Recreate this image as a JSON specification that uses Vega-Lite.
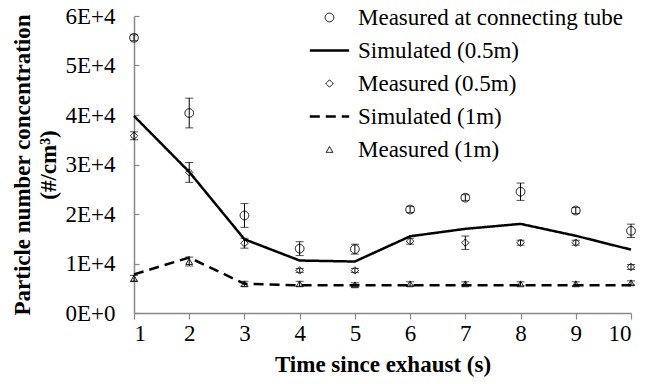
{
  "$schema": "https://vega.github.io/schema/vega-lite/v6.json",
  "width": 497,
  "height": 297,
  "autosize": "none",
  "padding": {"left": 134, "top": 16, "right": 20, "bottom": 71},
  "background": "white",
  "config": {
    "view": {"stroke": null},
    "font": "Liberation Serif",
    "axis": {"grid": false, "domainColor": "#898989", "tickColor": "#898989", "domainWidth": 1.5, "tickWidth": 1.2, "labelColor": "black", "titleColor": "black", "labelFont": "Liberation Serif", "titleFont": "Liberation Serif", "labelFontSize": 23, "titleFontSize": 23, "titleFontWeight": "bold"}
  },
  "datasets": {
    "meas": [
      {"t": 1, "series": "Measured at connecting tube", "v": 55600, "lo": 55000, "hi": 56200},
      {"t": 2, "series": "Measured at connecting tube", "v": 40400, "lo": 37400, "hi": 43400},
      {"t": 3, "series": "Measured at connecting tube", "v": 19700, "lo": 17300, "hi": 22100},
      {"t": 4, "series": "Measured at connecting tube", "v": 13000, "lo": 11600, "hi": 14400},
      {"t": 5, "series": "Measured at connecting tube", "v": 12900, "lo": 11900, "hi": 13900},
      {"t": 6, "series": "Measured at connecting tube", "v": 20900, "lo": 20300, "hi": 21500},
      {"t": 7, "series": "Measured at connecting tube", "v": 23300, "lo": 22700, "hi": 23900},
      {"t": 8, "series": "Measured at connecting tube", "v": 24500, "lo": 22750, "hi": 26250},
      {"t": 9, "series": "Measured at connecting tube", "v": 20700, "lo": 20100, "hi": 21300},
      {"t": 10, "series": "Measured at connecting tube", "v": 16600, "lo": 15250, "hi": 17950},
      {"t": 1, "series": "Measured (0.5m)", "v": 35800, "lo": 35000, "hi": 36600},
      {"t": 2, "series": "Measured (0.5m)", "v": 28400, "lo": 26400, "hi": 30400},
      {"t": 3, "series": "Measured (0.5m)", "v": 14100, "lo": 13100, "hi": 15100},
      {"t": 4, "series": "Measured (0.5m)", "v": 8600, "lo": 8200, "hi": 9000},
      {"t": 5, "series": "Measured (0.5m)", "v": 8600, "lo": 8200, "hi": 9000},
      {"t": 6, "series": "Measured (0.5m)", "v": 14500, "lo": 13900, "hi": 15100},
      {"t": 7, "series": "Measured (0.5m)", "v": 14200, "lo": 12850, "hi": 15550},
      {"t": 8, "series": "Measured (0.5m)", "v": 14200, "lo": 13700, "hi": 14700},
      {"t": 9, "series": "Measured (0.5m)", "v": 14200, "lo": 13700, "hi": 14700},
      {"t": 10, "series": "Measured (0.5m)", "v": 9300, "lo": 8800, "hi": 9800},
      {"t": 1, "series": "Measured (1m)", "v": 7000, "lo": 6400, "hi": 7600},
      {"t": 2, "series": "Measured (1m)", "v": 10400, "lo": 9500, "hi": 11300},
      {"t": 3, "series": "Measured (1m)", "v": 5900, "lo": 5400, "hi": 6400},
      {"t": 4, "series": "Measured (1m)", "v": 5900, "lo": 5400, "hi": 6400},
      {"t": 5, "series": "Measured (1m)", "v": 5700, "lo": 5300, "hi": 6100},
      {"t": 6, "series": "Measured (1m)", "v": 5900, "lo": 5500, "hi": 6300},
      {"t": 7, "series": "Measured (1m)", "v": 5900, "lo": 5500, "hi": 6300},
      {"t": 8, "series": "Measured (1m)", "v": 5900, "lo": 5500, "hi": 6300},
      {"t": 9, "series": "Measured (1m)", "v": 5900, "lo": 5500, "hi": 6300},
      {"t": 10, "series": "Measured (1m)", "v": 6100, "lo": 5700, "hi": 6500}
    ],
    "sim": [
      {"t": 1, "series": "Simulated (0.5m)", "v": 39800},
      {"t": 2, "series": "Simulated (0.5m)", "v": 28500},
      {"t": 3, "series": "Simulated (0.5m)", "v": 14900},
      {"t": 4, "series": "Simulated (0.5m)", "v": 10600},
      {"t": 5, "series": "Simulated (0.5m)", "v": 10400},
      {"t": 6, "series": "Simulated (0.5m)", "v": 15500},
      {"t": 7, "series": "Simulated (0.5m)", "v": 17000},
      {"t": 8, "series": "Simulated (0.5m)", "v": 18000},
      {"t": 9, "series": "Simulated (0.5m)", "v": 15600},
      {"t": 10, "series": "Simulated (0.5m)", "v": 12800},
      {"t": 1, "series": "Simulated (1m)", "v": 7800},
      {"t": 2, "series": "Simulated (1m)", "v": 11200},
      {"t": 3, "series": "Simulated (1m)", "v": 5900},
      {"t": 4, "series": "Simulated (1m)", "v": 5600},
      {"t": 5, "series": "Simulated (1m)", "v": 5600},
      {"t": 6, "series": "Simulated (1m)", "v": 5600},
      {"t": 7, "series": "Simulated (1m)", "v": 5600},
      {"t": 8, "series": "Simulated (1m)", "v": 5600},
      {"t": 9, "series": "Simulated (1m)", "v": 5600},
      {"t": 10, "series": "Simulated (1m)", "v": 5600}
    ]
  },
  "layer": [
    {
      "data": {"name": "sim"},
      "mark": {"type": "line", "color": "black", "strokeWidth": 2.5},
      "encoding": {
        "x": {"field": "t", "type": "quantitative", "scale": {"domain": [1, 10], "nice": false},
              "axis": {"title": "Time since exhaust (s)", "values": [1,2,3,4,5,6,7,8,9,10], "format": "d", "tickSize": 6, "labelPadding": 3, "titlePadding": 8}},
        "y": {"field": "v", "type": "quantitative", "scale": {"domain": [0, 60000], "nice": false},
              "axis": {"title": ["Particle number  concentration", "(#/cm³)"], "values": [0,10000,20000,30000,40000,50000,60000], "tickSize": -5, "labelPadding": 24, "titlePadding": 4, "titleLineHeight": 26,
                       "labelExpr": "datum.value === 0 ? '0E+0' : (datum.value/10000) + 'E+4'"}},
        "detail": {"field": "series"},
        "strokeDash": {"field": "series", "type": "nominal"}
      }
    },
    {
      "data": {"name": "meas"},
      "mark": {"type": "rule", "color": "black", "strokeWidth": 1},
      "encoding": {
        "x": {"field": "t", "type": "quantitative"},
        "y": {"field": "lo", "type": "quantitative"},
        "y2": {"field": "hi"}
      }
    },
    {
      "data": {"name": "meas"},
      "mark": {"type": "tick", "color": "black", "orient": "horizontal", "size": 8, "thickness": 1},
      "encoding": {
        "x": {"field": "t", "type": "quantitative"},
        "y": {"field": "lo", "type": "quantitative"}
      }
    },
    {
      "data": {"name": "meas"},
      "mark": {"type": "tick", "color": "black", "orient": "horizontal", "size": 8, "thickness": 1},
      "encoding": {
        "x": {"field": "t", "type": "quantitative"},
        "y": {"field": "hi", "type": "quantitative"}
      }
    },
    {
      "data": {"name": "meas"},
      "mark": {"type": "point", "filled": false, "color": "black", "opacity": 1},
      "encoding": {
        "x": {"field": "t", "type": "quantitative"},
        "y": {"field": "v", "type": "quantitative"},
        "size": {"field": "series", "type": "nominal",
                 "scale": {"type": "ordinal", "domain": ["Measured at connecting tube", "Simulated (0.5m)", "Measured (0.5m)", "Simulated (1m)", "Measured (1m)"], "range": [75, 70, 55, 70, 45]}},
        "strokeWidth": {"field": "series", "type": "nominal",
                 "scale": {"type": "ordinal", "domain": ["Measured at connecting tube", "Simulated (0.5m)", "Measured (0.5m)", "Simulated (1m)", "Measured (1m)"], "range": [1, 2.5, 1, 2.5, 1]}},
        "strokeDash": {"field": "series", "type": "nominal",
                 "scale": {"domain": ["Measured at connecting tube", "Simulated (0.5m)", "Measured (0.5m)", "Simulated (1m)", "Measured (1m)"], "range": [[1, 0], [1, 0], [1, 0], [10, 6], [1, 0]]}},
        "shape": {"field": "series", "type": "nominal",
                  "scale": {"domain": ["Measured at connecting tube", "Simulated (0.5m)", "Measured (0.5m)", "Simulated (1m)", "Measured (1m)"],
                            "range": ["circle", "M-4.7,0H4.7", "diamond", "M-4.7,0H4.7", "triangle-up"]},
                  "legend": {"title": null, "orient": "none", "legendX": 184, "legendY": -10, "labelFont": "Liberation Serif", "labelFontSize": 23, "labelColor": "black", "labelLimit": 400, "rowPadding": 9, "labelOffset": 17, "symbolStrokeColor": "black", "symbolFillColor": "transparent"}}
      }
    }
  ]
}
